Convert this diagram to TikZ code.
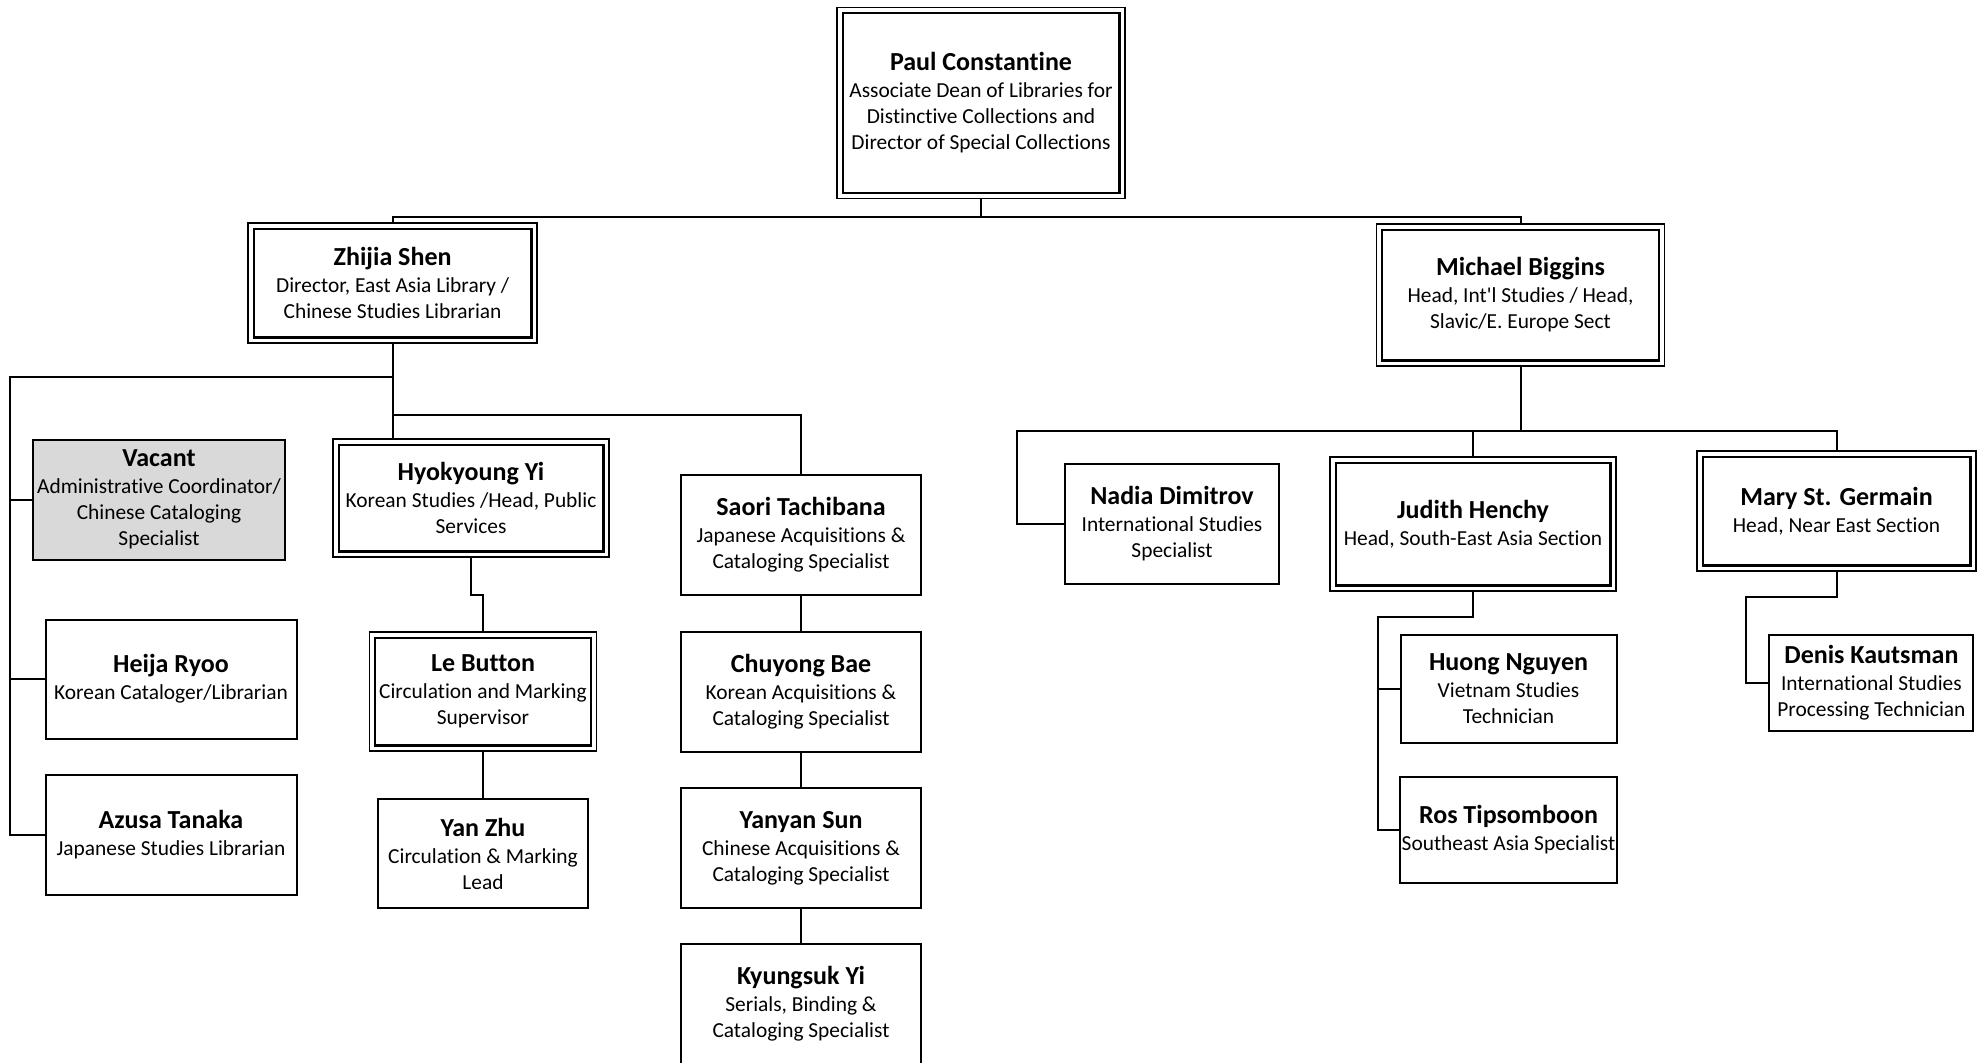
\documentclass[tikz,border=0pt]{standalone}
\usepackage{fontspec}
\setmainfont{Carlito}[Ligatures={NoCommon,TeXOff}]
\usepackage{xcolor}
\usepackage{tikz}

\definecolor{vacantgray}{RGB}{217,217,217}
\newcommand{\who}[2]{{\fontsize{13}{15}\selectfont\bfseries #1}\\[0.5pt]#2}

\begin{document}
\begin{tikzpicture}[x=0.5pt,y=-0.5pt,
  post/.style={draw,line width=1pt,align=center,inner sep=1pt,
    font=\fontsize{10.7}{13}\selectfont},
  head/.style={post,line width=0.7pt,
    path picture={\draw[line width=1.1pt]
      ([shift={(2.8pt,2.8pt)}]path picture bounding box.south west) rectangle
      ([shift={(-2.8pt,-2.8pt)}]path picture bounding box.north east);}},
  vacant/.style={post,fill=vacantgray},
  link/.style={line width=1pt}]
\useasboundingbox (0,0) rectangle (1986,1062);

% top level
\node[head,minimum width=144pt,minimum height=95.5pt] (paul) at (981,103)
  {\who{Paul Constantine}{Associate Dean of Libraries for\\Distinctive Collections and\\Director of Special Collections}};
\node[head,minimum width=144.5pt,minimum height=60pt] (zhijia) at (392.6,283)
  {\who{Zhijia Shen}{Director, East Asia Library /\\Chinese Studies Librarian}};
\node[head,minimum width=144pt,minimum height=71pt] (michael) at (1520.5,295)
  {\who{Michael Biggins}{Head, Int'l Studies / Head,\\Slavic/E. Europe Sect}};

% east asia
\node[vacant,minimum width=126pt,minimum height=60pt] (vacant) at (159,499.7)
  {\who{Vacant}{Administrative Coordinator/\\Chinese Cataloging\\Specialist}};
\node[post,minimum width=125.5pt,minimum height=59.5pt] (heija) at (171,679)
  {\who{Heija Ryoo}{Korean Cataloger/Librarian}};
\node[post,minimum width=125.5pt,minimum height=60pt] (azusa) at (171,835)
  {\who{Azusa Tanaka}{Japanese Studies Librarian}};
\node[head,minimum width=138pt,minimum height=59pt] (hyokyoung) at (471,498)
  {\who{Hyokyoung Yi}{Korean Studies /Head, Public\\Services}};
\node[head,minimum width=113.5pt,minimum height=59.5pt] (lebutton) at (483,691.5)
  {\who{Le Button}{Circulation and Marking\\Supervisor}};
\node[post,minimum width=105pt,minimum height=54.5pt] (yanzhu) at (483,853.7)
  {\who{Yan Zhu}{Circulation \& Marking\\Lead}};
\node[post,minimum width=119.7pt,minimum height=60pt] (saori) at (801,535)
  {\who{Saori Tachibana}{Japanese Acquisitions \&\\Cataloging Specialist}};
\node[post,minimum width=119.7pt,minimum height=60pt] (chuyong) at (801,692)
  {\who{Chuyong Bae}{Korean Acquisitions \&\\Cataloging Specialist}};
\node[post,minimum width=119.7pt,minimum height=60pt] (yanyan) at (801,848)
  {\who{Yanyan Sun}{Chinese Acquisitions \&\\Cataloging Specialist}};
\node[post,minimum width=119.7pt,minimum height=60pt] (kyungsuk) at (801,1004)
  {\who{Kyungsuk Yi}{Serials, Binding \&\\Cataloging Specialist}};

% international studies
\node[post,minimum width=107pt,minimum height=60pt] (nadia) at (1172,523.7)
  {\who{Nadia Dimitrov}{International Studies\\Specialist}};
\node[head,minimum width=143pt,minimum height=67pt] (judith) at (1473,524)
  {\who{Judith Henchy}{Head, South-East Asia Section}};
\node[head,minimum width=139.5pt,minimum height=60pt] (mary) at (1836.5,511)
  {\who{Mary St. Germain}{Head, Near East Section}};
\node[post,minimum width=108pt,minimum height=54pt] (huong) at (1508.5,688.5)
  {\who{Huong Nguyen}{Vietnam Studies\\Technician}};
\node[post,minimum width=108pt,minimum height=53pt] (ros) at (1508.5,829.6)
  {\who{Ros Tipsomboon}{Southeast Asia Specialist}};
\node[post,minimum width=102pt,minimum height=48pt] (denis) at (1871.4,682.7)
  {\who{Denis Kautsman}{International Studies\\Processing Technician}};

% bus points
\coordinate (topbus) at (981,216.6);
\coordinate (zleft) at (10,377.4);
\coordinate (zmid) at (392.6,415.4);
\coordinate (hyojog) at (483,595.3);
\coordinate (mbus) at (1017,430.6);
\coordinate (jbus) at (1378,616.8);
\coordinate (mjog) at (1746,596.6);

% connectors
\draw[link] (paul.south) -- (topbus);
\draw[link] (zhijia.north) |- (topbus) -| (michael.north);
\draw[link] (zhijia.south) -- (zhijia.south |- hyokyoung.north);
\draw[link] (zhijia.south |- zleft) -- (zleft) |- (azusa.west);
\draw[link] (zleft) |- (vacant.west);
\draw[link] (zleft) |- (heija.west);
\draw[link] (zmid) -| (saori.north);
\draw[link] (hyokyoung.south) |- (hyojog) -- (lebutton.north);
\draw[link] (lebutton.south) -- (yanzhu.north);
\foreach \a/\b in {saori/chuyong, chuyong/yanyan, yanyan/kyungsuk}
  \draw[link] (\a.south) -- (\b.north);
\draw[link] (michael.south) -- (michael.south |- mbus);
\draw[link] (nadia.west) -| (mbus) -| (mary.north);
\draw[link] (judith.north) -- (judith.north |- mbus);
\draw[link] (judith.south) |- (jbus) |- (ros.west);
\draw[link] (jbus) |- (huong.west);
\draw[link] (mary.south) |- (mjog) |- (denis.west);
\end{tikzpicture}
\end{document}
